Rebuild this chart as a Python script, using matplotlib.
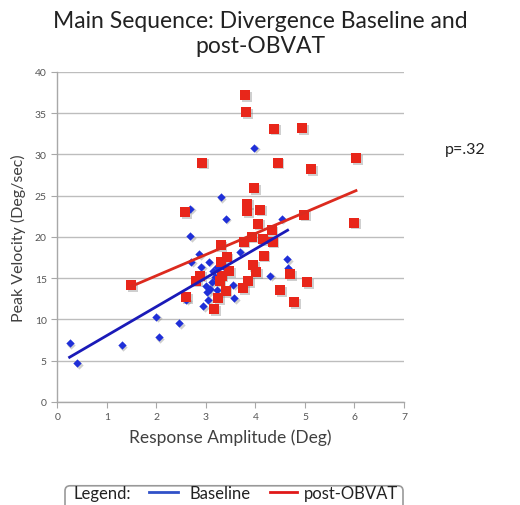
import numpy as np
import matplotlib
matplotlib.use("Agg")
import matplotlib.pyplot as plt
import matplotlib.transforms as mtransforms
from matplotlib.lines import Line2D
from matplotlib.patches import FancyBboxPatch

plt.rcParams['font.family'] = ['Lato', 'DejaVu Sans']

# baseline measurements (response amplitude, peak velocity)
base_amp = [0.25, 0.4, 1.3, 2.0, 2.05, 2.46, 2.6, 2.68, 2.68, 2.7, 2.86, 2.9,
            2.95, 3.02, 3.05, 3.06, 3.08, 3.12, 3.18, 3.22, 3.23, 3.3, 3.4,
            3.55, 3.57, 3.69, 3.97, 4.3, 4.53, 4.64, 4.66, 3.15, 3.35, 3.0]
base_vel = [7.1, 4.7, 6.9, 10.3, 7.8, 9.5, 12.4, 23.4, 20.1, 17.0, 17.9, 16.4,
            11.6, 13.3, 12.4, 17.0, 13.7, 14.5, 15.1, 16.3, 13.6, 24.8, 22.2,
            14.2, 12.6, 18.2, 30.8, 15.3, 22.2, 17.3, 16.2, 15.8, 16.5, 14.0]

# post-OBVAT measurements
post_amp = [1.49, 2.6, 2.58, 2.8, 2.88, 2.92, 3.17, 3.25, 3.28, 3.3, 3.3, 3.32,
            3.4, 3.42, 3.47, 3.75, 3.76, 3.79, 3.81, 3.83, 3.83, 3.86, 3.93,
            3.96, 3.97, 4.02, 4.06, 4.09, 4.15, 4.17, 4.33, 4.35, 4.38, 4.45,
            4.5, 4.7, 4.78, 4.94, 4.98, 5.04, 5.12, 5.99, 6.03]
post_vel = [14.1, 12.7, 23.0, 14.7, 15.3, 29.0, 11.2, 12.6, 14.7, 19.0, 16.9, 15.3,
            13.4, 17.5, 15.8, 13.8, 19.4, 37.2, 35.1, 24.0, 23.1, 14.6, 20.0,
            16.6, 25.9, 15.7, 21.6, 23.3, 19.7, 17.7, 20.8, 19.4, 33.1, 29.0,
            13.5, 15.5, 12.1, 33.2, 22.7, 14.5, 28.2, 21.7, 29.5]

# trend lines (end points)
base_fit_x = [0.25, 4.65]
base_fit_y = [5.4, 20.8]
post_fit_x = [1.5, 6.03]
post_fit_y = [14.0, 25.6]

blue = "#1f2fd8"
red = "#e8261a"

fig = plt.figure(figsize=(5.20, 5.06), dpi=100)
ax = fig.add_axes([0.110, 0.204, 0.667, 0.652])

shadow = mtransforms.offset_copy(ax.transData, fig=fig, x=1.2, y=-1.2, units='points')
ax.scatter(base_amp, base_vel, marker='D', s=18, color='#777777', alpha=0.35,
           linewidths=0, transform=shadow, zorder=2)
ax.scatter(post_amp, post_vel, marker='s', s=52, color='#777777', alpha=0.35,
           linewidths=0, transform=shadow, zorder=2)
ax.scatter(base_amp, base_vel, marker='D', s=18, color=blue, linewidths=0, zorder=3)
ax.scatter(post_amp, post_vel, marker='s', s=52, color=red, linewidths=0, zorder=4)

ax.plot(base_fit_x, base_fit_y, color="#1a1ab8", lw=2, zorder=5)
ax.plot(post_fit_x, post_fit_y, color="#dc2a1e", lw=2, zorder=5)

ax.set_xlim(0, 7)
ax.set_ylim(0, 40)
ax.set_xticks(range(0, 8))
ax.set_yticks(range(0, 41, 5))
ax.yaxis.grid(True, color='#bdbdbd', lw=1)
ax.set_axisbelow(True)
for s in ['top', 'right']:
    ax.spines[s].set_visible(False)
for s in ['left', 'bottom']:
    ax.spines[s].set_color('#a8a8a8')
    ax.spines[s].set_linewidth(1)
ax.tick_params(axis='both', colors='#a8a8a8', labelcolor='#555555',
               labelsize=7.5, length=4, direction='out')

ax.set_xlabel("Response Amplitude (Deg)", fontsize=12.5, color='#404040', labelpad=5)
ax.set_ylabel("Peak Velocity (Deg/sec)", fontsize=11.5, color='#404040', labelpad=6)

fig.text(0.5, 0.978, "Main Sequence: Divergence Baseline and\npost-OBVAT",
         ha='center', va='top', fontsize=16.5, color='#222222', linespacing=1.25)
fig.text(0.855, 0.703, "p=.32", fontsize=11.5, color='#222222', va='center')

# legend strip at the bottom
box = FancyBboxPatch((0.125, -0.05), 0.65, 0.088, transform=fig.transFigure,
                     boxstyle="round,pad=0,rounding_size=0.01",
                     fc='white', ec='#999999', lw=1.2)
fig.patches.append(box)
ly = 0.024
fig.text(0.142, ly, "Legend:", fontsize=12, va='center', color='#222222')
fig.add_artist(Line2D([0.287, 0.343], [ly + 0.002, ly + 0.002], color="#3050c8",
                      lw=2, transform=fig.transFigure))
fig.text(0.364, ly, "Baseline", fontsize=12, va='center', color='#222222')
fig.add_artist(Line2D([0.519, 0.571], [ly + 0.002, ly + 0.002], color="#e01818",
                      lw=2, transform=fig.transFigure))
fig.text(0.585, ly, "post-OBVAT", fontsize=12, va='center', color='#222222')

fig.savefig("out.png", dpi=100)
